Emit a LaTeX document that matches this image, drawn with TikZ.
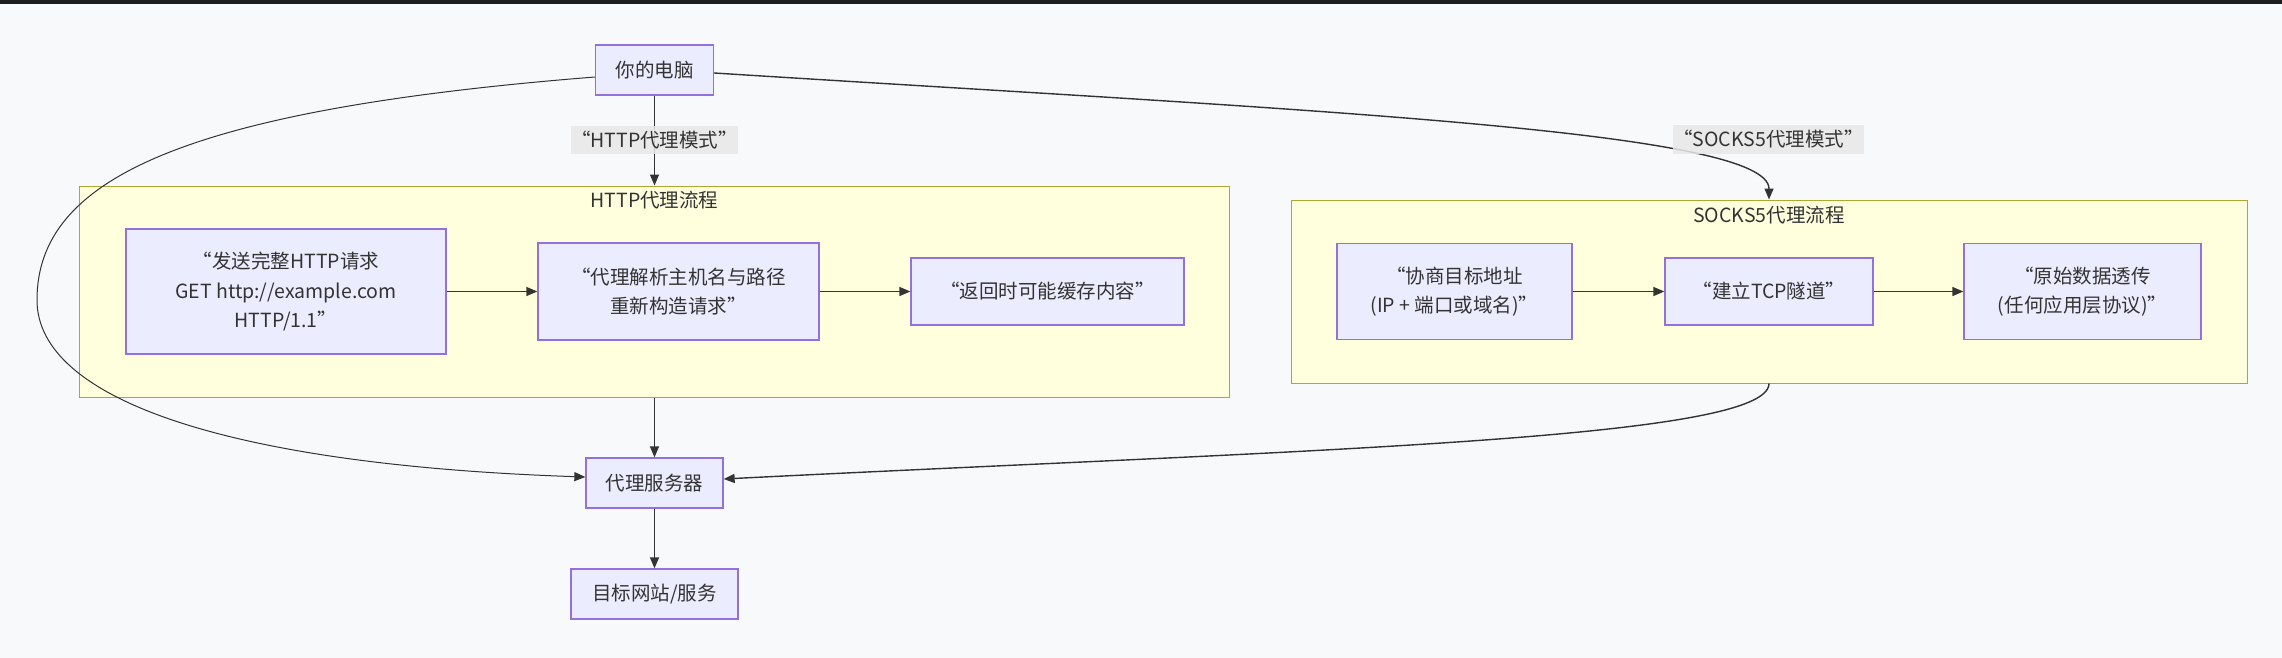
\documentclass[tikz,border=0pt]{standalone}
\usepackage{fontspec}
\setmainfont{Noto Sans CJK SC}
\usetikzlibrary{arrows.meta}
\definecolor{bgc}{RGB}{248,249,250}
\definecolor{nodefill}{HTML}{ECECFF}
\definecolor{nodeline}{HTML}{9370DB}
\definecolor{clfill}{HTML}{FFFFDE}
\definecolor{clline}{HTML}{AAAA33}
\definecolor{txt}{HTML}{333333}
\definecolor{lblbg}{HTML}{E8E8E8}
\definecolor{topbar}{HTML}{1E1E1E}
\tikzset{
  every node/.style={font=\fontsize{19.5}{29.5}\selectfont, text=txt},
  box/.style={draw=nodeline, fill=nodefill, line width=1.3pt, inner sep=0pt, align=center},
  cluster/.style={draw=clline, fill=clfill, line width=1pt, inner sep=0pt},
  lbl/.style={fill=lblbg, fill opacity=0.85, text opacity=1, inner sep=0pt},
  edge/.style={draw=txt, line width=1.4pt, -{Triangle[length=11pt,width=9pt]}},
}
\begin{document}
\begin{tikzpicture}[x=1pt,y=-1pt]
\fill[bgc] (0,0) rectangle (2282,658);
\useasboundingbox (0,0) rectangle (2282,658);
\fill[topbar] (0,0) rectangle (2282,4);

% clusters
\node[cluster, minimum width=1150pt, minimum height=211pt] (httpc) at (654.5,291.5) {};
\node (httpt) at (654.5,200) {HTTP代理流程};
\node[cluster, minimum width=956pt, minimum height=183pt] (socksc) at (1769,291.5) {};
\node (sockst) at (1769,215) {SOCKS5代理流程};

% nodes
\node[box, minimum width=118pt, minimum height=50pt] (pc) at (654.5,70) {你的电脑};
\node[box, minimum width=320pt, minimum height=125pt] (a1) at (286,291.5) {“发送完整HTTP请求\\GET http://example.com\\HTTP/1.1”};
\node[box, minimum width=281pt, minimum height=97pt] (a2) at (678.5,291.5) {“代理解析主机名与路径\\重新构造请求”};
\node[box, minimum width=273pt, minimum height=67pt] (a3) at (1047.5,291.5) {“返回时可能缓存内容”};
\node[box, minimum width=235pt, minimum height=96pt] (b1) at (1454.5,291.5) {“协商目标地址\\(IP + 端口或域名)”};
\node[box, minimum width=208pt, minimum height=67pt] (b2) at (1769,291.5) {“建立TCP隧道”};
\node[box, minimum width=237pt, minimum height=96pt] (b3) at (2082.5,291.5) {“原始数据透传\\(任何应用层协议)”};
\node[box, minimum width=137pt, minimum height=50pt] (proxy) at (654.5,483) {代理服务器};
\node[box, minimum width=167pt, minimum height=50pt] (target) at (654.5,594) {目标网站/服务};

% edges
\draw[edge] (pc.south) -- (pc.south |- httpc.north);
\draw[edge] (httpc.south) -- (proxy.north);
\draw[edge] (proxy) -- (target);
\draw[edge] (a1) -- (a2);
\draw[edge] (a2) -- (a3);
\draw[edge] (b1) -- (b2);
\draw[edge] (b2) -- (b3);
\draw[edge, line width=1pt] ([yshift=-7pt]pc.west) .. controls (180,110) and (37,180) .. (37,300)
   .. controls (37,400) and (230,465) .. ([yshift=6pt]proxy.west);
\draw[edge] ([yshift=-3pt]pc.east) .. controls (1300,110) and (1769,130) .. (socksc.north);
\draw[edge] (socksc.south) .. controls (1769,440) and (1300,450) .. ([yshift=4pt]proxy.east);

% edge labels
\node[lbl, minimum width=146pt, minimum height=28pt] (lh) at (654.5,140) {“HTTP代理模式”};
\node[lbl, minimum width=165pt, minimum height=29pt] (ls) at (1768.5,139.5) {“SOCKS5代理模式”};
\end{tikzpicture}
\end{document}
